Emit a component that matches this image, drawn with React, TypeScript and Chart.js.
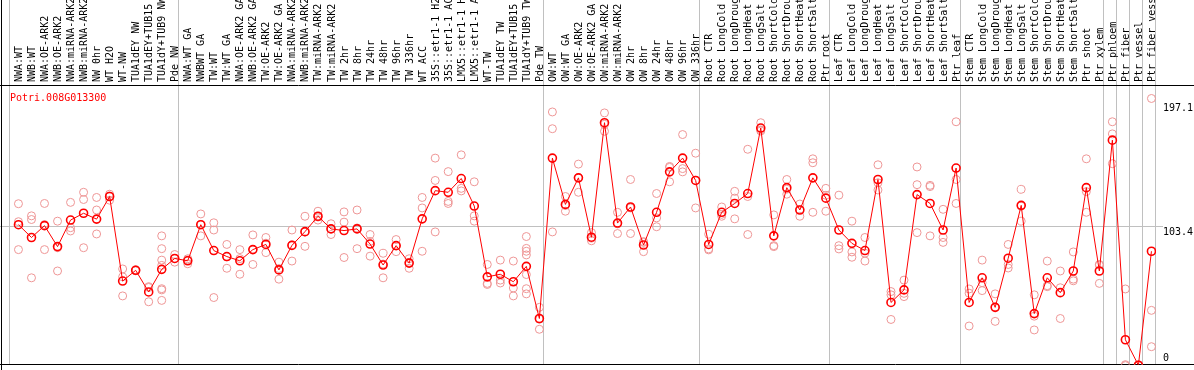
import React, { useEffect, useRef } from "react";
import { Chart, registerables } from "chart.js";

Chart.register(...registerables);

const categories: string[] = [
  "NWA:WT", "NWB:WT", "NWA:OE-ARK2", "NWB:OE-ARK2", "NWA:miRNA-ARK2", "NWB:miRNA-ARK2",
  "NW 0hr", "WT H2O", "WT-NW", "TUA1dEY NW", "TUA1dEY+TUB15", "TUA1dY+TUB9 NW", "Pde NW",
  "NWA:WT GA", "NWBWT GA", "TW:WT", "TW:WT GA", "NWA:OE-ARK2 GA", "NWB:OE-ARK2 GA",
  "TW:OE-ARK2", "TW:OE-ARK2 GA", "NWA:miRNA-ARK2 GA", "NWB:miRNA-ARK2 GA", "TW:miRNA-ARK2",
  "TW:miRNA-ARK2", "TW 2hr", "TW 8hr", "TW 24hr", "TW 48hr", "TW 96hr", "TW 336hr", "WT ACC",
  "35S::etr1-1 H2O", "35S::etr1-1 ACC", "LMX5::etr1-1 H2O", "LMX5::etr1-1 ACC", "WT-TW",
  "TUA1dEY TW", "TUA1dEY+TUB15", "TUA1dY+TUB9 TW", "Pde TW",
  "OW:WT", "OW:WT GA", "OW:OE-ARK2", "OW:OE-ARK2 GA", "OW:miRNA-ARK2", "OW:miRNA-ARK2",
  "OW 2hr", "OW 8hr", "OW 24hr", "OW 48hr", "OW 96hr", "OW 336hr",
  "Root CTR", "Root LongCold", "Root LongDrought", "Root LongHeat", "Root LongSalt",
  "Root ShortCold", "Root ShortDrought", "Root ShortHeat", "Root ShortSalt", "Ptr root",
  "Leaf CTR", "Leaf LongCold", "Leaf LongDrought", "Leaf LongHeat", "Leaf LongSalt",
  "Leaf ShortCold", "Leaf ShortDrought", "Leaf ShortHeat", "Leaf ShortSalt", "Ptr leaf",
  "Stem CTR", "Stem LongCold", "Stem LongDrought", "Stem LongHeat", "Stem LongSalt",
  "Stem ShortCold", "Stem ShortDrought", "Stem ShortHeat", "Stem ShortSalt", "Ptr shoot",
  "Ptr xylem", "Ptr phloem", "Ptr fiber", "Ptr vessel", "Ptr fiber vessel",
];

const means: number[] = [
  104.4, 95.0, 103.7, 88.3, 107.8, 112.8, 108.5, 125.1, 63.0, 70.9,
  55.0, 71.6, 79.6, 77.9, 104.4, 85.4, 81.0, 77.9, 86.1, 89.9,
  71.2, 89.2, 99.3, 110.6, 101.3, 100.1, 101.3, 90.2, 74.8, 89.0,
  76.2, 108.7, 129.4, 128.2, 138.3, 118.1, 66.1, 68.0, 62.5, 73.8,
  35.5, 153.3, 119.3, 138.8, 95.2, 179.3, 105.6, 117.4, 89.5, 113.5,
  143.2, 153.3, 136.9, 89.9, 113.5, 120.0, 127.3, 175.4, 96.2, 131.6,
  115.2, 138.8, 123.9, 100.5, 90.7, 85.4, 137.6, 47.3, 56.5, 126.5,
  120.0, 100.5, 146.0, 47.3, 65.4, 43.7, 79.8, 118.6, 39.1, 65.4,
  54.5, 70.4, 131.6, 70.4, 166.5, 19.9, 1.2, 84.9,
];

const replicates: number[][] = [
  [119.8, 106.6, 86.1], [110.9, 108.2, 65.4], [120.0, 104.5, 86.1], [107.0, 87.5, 70.4],
  [120.8, 102.2, 99.8], [128.2, 122.9, 87.5], [124.4, 115.2, 97.6], [126.8, 125.5, 122.4],
  [71.9, 66.1, 52.1], [71.3, 71.0, 70.5], [58.9, 58.3, 47.8],
  [96.2, 86.8, 78.4, 74.5, 57.4, 56.5, 48.8], [82.5, 79.5, 76.9], [79.4, 78.5, 75.7],
  [112.3, 104.6, 96.2], [105.8, 100.5, 50.9], [89.9, 80.8, 72.4], [86.1, 79.5, 68.0],
  [96.9, 86.2, 75.2], [95.0, 90.8, 83.9], [76.9, 72.2, 64.4], [100.5, 89.5, 77.7],
  [110.6, 99.0, 88.5], [114.3, 110.0, 107.8], [105.1, 101.5, 97.2], [113.8, 106.3, 80.3],
  [115.2, 102.0, 86.8], [97.2, 92.1, 81.3], [83.4, 75.5, 65.4], [93.5, 89.0, 84.6],
  [79.4, 76.8, 72.4], [124.4, 116.7, 84.9], [153.3, 136.9, 99.1], [143.4, 121.5, 120.0],
  [155.7, 131.1, 129.2], [135.9, 110.9, 107.0], [75.2, 61.3, 60.5], [78.4, 63.7, 61.6],
  [77.7, 57.9, 52.1], [95.7, 87.0, 84.9, 82.2, 67.8, 57.4, 53.6], [43.7, 35.0, 27.6],
  [187.2, 174.9, 99.1], [125.1, 118.5, 114.3], [148.9, 139.0, 128.2], [98.6, 94.5, 92.6],
  [186.5, 178.0, 173.0], [113.5, 105.0, 97.9], [137.6, 116.7, 97.9], [92.0, 91.4, 84.6],
  [127.3, 109.4, 102.9], [147.2, 146.5, 135.9], [170.6, 145.6, 143.2], [156.9, 137.0, 116.7],
  [97.4, 86.6, 85.9], [117.4, 112.0, 110.6], [128.9, 123.9, 108.7], [159.8, 125.1, 97.2],
  [179.3, 174.0, 173.2], [111.6, 89.0, 88.3], [137.6, 130.5, 126.8], [119.6, 115.5, 110.6],
  [152.8, 149.9, 113.5], [131.1, 126.0, 114.3], [126.1, 89.0, 86.6], [107.0, 84.4, 80.5],
  [95.0, 83.5, 77.7], [148.4, 135.2, 129.9], [55.3, 52.9, 34.8], [63.7, 54.0, 51.6],
  [146.8, 133.8, 98.6], [133.3, 132.4, 96.2], [115.7, 95.0, 91.4], [180.0, 137.6, 120.0],
  [57.2, 54.1, 30.0], [78.4, 61.8, 56.0], [53.6, 44.0, 33.4], [89.9, 75.2, 72.6],
  [130.4, 118.0, 107.0], [52.9, 37.2, 27.1], [77.7, 59.6, 58.9], [70.4, 58.1, 35.5],
  [84.4, 64.4, 63.2], [152.8, 128.7, 113.5], [75.2, 74.7, 61.3], [180.0, 171.1, 149.2],
  [57.2, 1.6, 0.9], [1.5, 1.0, 1.2], [197.1, 41.5, 14.8],
];

const groupStarts: number[] = [0, 13, 41, 53, 63, 73, 84, 85, 86, 87, 88];
const axisLabels: number[] = [197.1, 103.4, 0];
const gridValue = 103.4;
const title = "Potri.008G013300";

const OFF = 0.65;
const FONT = '10px "DejaVu Sans Mono", "Liberation Mono", monospace';

const decorPlugin = {
  id: "decor",
  beforeDatasetsDraw(chart: any) {
    const ctx: CanvasRenderingContext2D = chart.ctx;
    const xs = chart.scales.x;
    const ys = chart.scales.y;
    const a = chart.chartArea;
    const W = chart.width;
    const H = chart.height;
    const line = (x1: number, y1: number, x2: number, y2: number) => {
      ctx.beginPath();
      ctx.moveTo(x1, y1);
      ctx.lineTo(x2, y2);
      ctx.stroke();
    };
    ctx.save();
    ctx.lineWidth = 1;
    ctx.strokeStyle = "#c0c0c0";
    const gy = Math.round(ys.getPixelForValue(gridValue)) + 0.5;
    line(0, gy, 1163, gy);
    for (const b of groupStarts) {
      const px = Math.round(xs.getPixelForValue(b - OFF)) - 0.5;
      line(px, 0, px, a.bottom);
    }
    ctx.strokeStyle = "#000";
    line(0, Math.round(a.top) + 0.5, W, Math.round(a.top) + 0.5);
    line(0, Math.round(a.bottom) + 0.5, W, Math.round(a.bottom) + 0.5);
    line(1.5, 0, 1.5, H);

    ctx.font = FONT;
    ctx.fillStyle = "#000";
    categories.forEach((c, i) => {
      const px = xs.getPixelForValue(i);
      ctx.save();
      ctx.translate(px + 3.5, a.top - 3);
      ctx.rotate(-Math.PI / 2);
      ctx.textAlign = "left";
      ctx.textBaseline = "alphabetic";
      ctx.fillText(c, 0, 0);
      ctx.restore();
    });

    ctx.textAlign = "left";
    ctx.textBaseline = "top";
    axisLabels.forEach((v) => {
      let y = ys.getPixelForValue(v) + 1;
      y = Math.max(a.top + 18, Math.min(a.bottom - 11, y));
      ctx.fillText(String(v), 1163, y);
    });
    ctx.fillStyle = "#ff0000";
    ctx.fillText(title, 10, a.top + 8);
    ctx.restore();
  },
};

export default function App() {
  const ref = useRef<HTMLCanvasElement | null>(null);
  useEffect(() => {
    if (!ref.current) return;
    const repPoints: { x: number; y: number }[] = [];
    replicates.forEach((arr, i) => arr.forEach((v) => repPoints.push({ x: i, y: v })));
    const meanPoints = means.map((v, i) => ({ x: i, y: v }));
    const chart = new Chart(ref.current, {
      type: "scatter",
      data: {
        datasets: [
          {
            data: meanPoints,
            showLine: true,
            borderColor: "#ff0000",
            borderWidth: 1,
            pointRadius: 4,
            pointBorderWidth: 1.6,
            pointBorderColor: "#ff0000",
            pointBackgroundColor: "rgba(0,0,0,0)",
            order: 0,
          },
          {
            data: repPoints,
            showLine: false,
            pointRadius: 4,
            pointBorderWidth: 1,
            pointBorderColor: "rgb(238,150,150)",
            pointBackgroundColor: "rgba(0,0,0,0)",
            order: 1,
          },
        ],
      },
      options: {
        animation: false,
        responsive: false,
        devicePixelRatio: 1,
        events: [],
        layout: { padding: { left: 10, right: 38, top: 85, bottom: 1 } },
        plugins: { legend: { display: false }, tooltip: { enabled: false }, title: { display: false } },
        scales: {
          x: { type: "linear", min: -OFF, max: 88 - OFF, display: false },
          y: { type: "linear", min: 1.8, max: 207, display: false },
        },
      },
      plugins: [decorPlugin],
    });
    return () => chart.destroy();
  }, []);
  return (
    <div style={{ position: "absolute", left: 0, top: 0, width: 1194, height: 370, background: "#fff" }}>
      <canvas ref={ref} width={1194} height={370} style={{ display: "block" }} />
    </div>
  );
}
